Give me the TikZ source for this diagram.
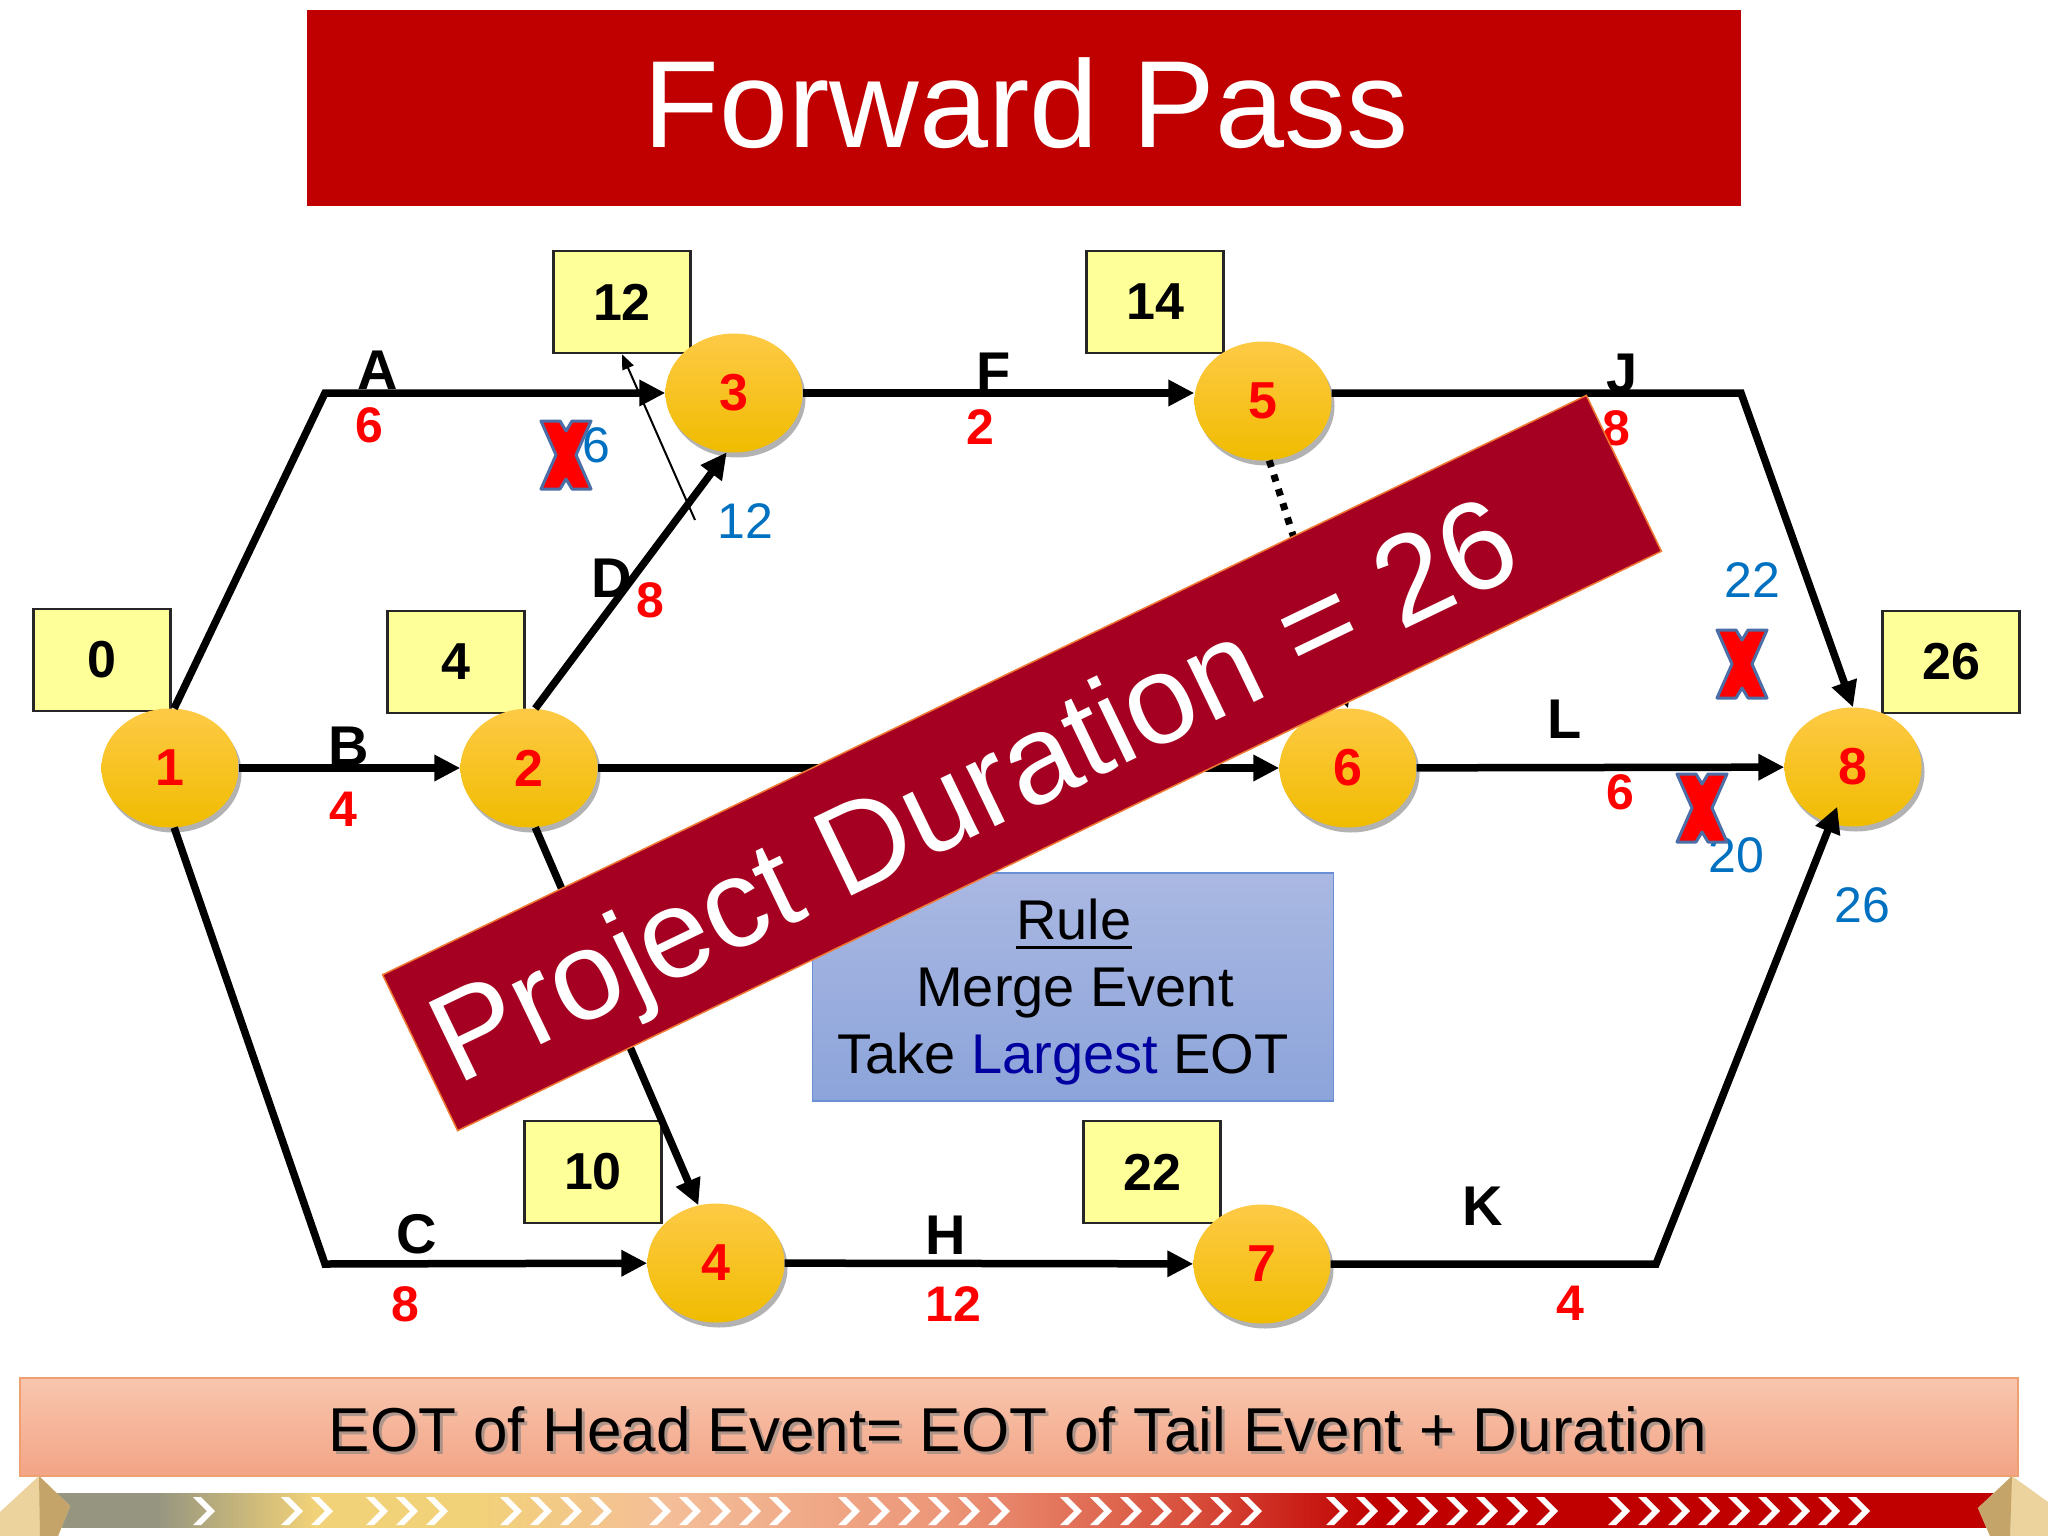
\documentclass[tikz,border=0pt]{standalone}
\usepackage{fontspec}
\setmainfont{Liberation Sans}
\usetikzlibrary{arrows.meta,shapes.geometric,shadows,calc}
\newcommand{\fsz}[1]{\fontsize{#1pt}{#1pt}\selectfont}
\definecolor{titlered}{RGB}{192,0,0}
\definecolor{bannerred}{RGB}{165,0,33}
\definecolor{bannerline}{RGB}{240,120,50}
\definecolor{boxyellow}{RGB}{255,255,153}
\definecolor{evtop}{RGB}{254,202,70}
\definecolor{evbot}{RGB}{240,188,0}
\definecolor{numblue}{RGB}{0,112,192}
\definecolor{xslate}{RGB}{74,110,165}
\definecolor{ruletop}{RGB}{170,184,226}
\definecolor{rulebot}{RGB}{140,164,218}
\definecolor{ruleline}{RGB}{106,143,212}
\definecolor{largeblue}{RGB}{0,0,160}
\definecolor{bartop}{RGB}{248,198,174}
\definecolor{barbot}{RGB}{243,164,134}
\definecolor{barline}{RGB}{238,160,112}
\definecolor{sgray}{RGB}{150,150,128}
\definecolor{syellow}{RGB}{242,210,120}
\definecolor{speach}{RGB}{244,190,152}
\definecolor{ssalmon}{RGB}{236,150,120}
\definecolor{scoral}{RGB}{217,83,63}
\definecolor{sdred}{RGB}{192,0,0}
\definecolor{tanlight}{RGB}{236,210,156}
\definecolor{tandark}{RGB}{196,164,104}
\pgfdeclarehorizontalshading{stripshade}{100bp}{color(0bp)=(sgray); color(28bp)=(sgray); color(32bp)=(syellow); color(36bp)=(syellow); color(41bp)=(speach); color(48bp)=(ssalmon); color(54bp)=(scoral); color(59bp)=(sdred); color(100bp)=(sdred)}
\newcommand{\redcross}[1]{%
  \begin{scope}[shift={#1}]
    \filldraw[fill=red, draw=xslate, line width=3pt, line join=round]
      (-25,-34) -- (-6,-34) -- (0,-24) -- (6,-34) -- (25,-34) -- (10,0) -- (25,34) -- (6,34) -- (0,24) -- (-6,34) -- (-25,34) -- (-10,0) -- cycle;
  \end{scope}}
\tikzset{
  evt/.style={ellipse, minimum width=137pt, minimum height=119pt, inner sep=0pt,
    top color=evtop, bottom color=evbot, draw=none, text=red, font=\fsz{52}\bfseries,
    drop shadow={shadow xshift=3pt, shadow yshift=-5pt, opacity=0.3, fill=black}},
  eot/.style={rectangle, minimum width=137pt, minimum height=102pt, inner sep=0pt,
    fill=boxyellow, draw=black!85, line width=2.5pt, font=\fsz{52}\bfseries},
  act/.style={inner sep=0pt, anchor=base, font=\fsz{56}\bfseries},
  dur/.style={inner sep=0pt, anchor=base, text=red, font=\fsz{50}\bfseries},
  blu/.style={inner sep=0pt, anchor=base, text=numblue, font=\fsz{50}},
  arr/.style={line width=7.5pt, -{Triangle[length=26pt,width=25pt]}},
}
\begin{document}
\begin{tikzpicture}[x=1pt,y=-1pt]
\useasboundingbox (0,0) rectangle (2048,1536);
\fill[white] (0,0) rectangle (2048,1536);

% title
\node[fill=titlered, minimum width=1434pt, minimum height=195pt, inner sep=0pt] (title) at (1024,108) {};
\node[anchor=base, inner sep=0pt, text=white, font=\fsz{124}] (titletext) at (1026,147) {Forward Pass};

% EOT boxes
\node[eot] (e0)  at (102,660)  {0};
\node[eot] (e4)  at (456,662)  {4};
\node[eot] (e12) at (622,302)  {12};
\node[eot] (e14) at (1155,302) {14};
\node[eot] (e26) at (1951,662) {26};
\node[eot] (e10) at (593,1172) {10};
\node[eot] (e22) at (1152,1172) {22};

% events
\node[evt] (n1) at (170,768)  {1};
\node[evt] (n2) at (529,768)  {2};
\node[evt] (n3) at (734,393)  {3};
\node[evt] (n4) at (716,1263) {4};
\node[evt] (n5) at (1263,401) {5};
\node[evt] (n6) at (1348,768) {6};
\node[evt] (n7) at (1262,1264) {7};
\node[evt] (n8) at (1853,767) {8};

% corners
\coordinate (cA) at (325,393);
\coordinate (cC) at (325,1264);
\coordinate (cJ) at (1741,393);
\coordinate (cK) at (1656,1264);
\coordinate (tstart) at (695,520);

% activities
\draw[arr] (n1.86) -- (cA) -- (n3);
\draw[arr] (n1) -- (n2);
\draw[arr] (n1.-86) -- (cC) -- (n4);
\draw[arr] (n2.84) -- (n3.-97);
\draw[arr] (n2) -- (n6);
\draw[arr] (n2.-84) -- (n4.107);
\draw[arr] (n3) -- (n5.west |- n3);
\draw[arr] (n4) -- (n7);
\draw[arr] (n5.east |- n3) -- (cJ) -- (n8.north);
\draw[arr, shorten >=-18pt] (n7) -- (cK) -- (n8);
\draw[arr] (n6) -- (n8);
\draw[line width=7pt, dash pattern=on 7pt off 8pt, -{Triangle[length=22pt,width=20pt]}] (n5.-84) -- (n6.north);
\draw[line width=2pt, -{Triangle[length=15pt,width=12pt]}] (tstart) -- (e12.south);

% labels
\node[act] (lA) at (378,389) {A};
\node[dur] (dA) at (369,442) {6};
\node[blu] (tA) at (596,462) {6};
\node[blu] (t3) at (745,538) {12};
\node[act] (lD) at (612,597) {D};
\node[dur] (dD) at (650,617) {8};
\node[act] (lB) at (349,765) {B};
\node[dur] (dB) at (343,826) {4};
\node[act] (lF) at (994,391) {F};
\node[dur] (dF) at (980,444) {2};
\node[act] (lJ) at (1622,392) {J};
\node[dur] (dJ) at (1616,445) {8};
\node[act] (lL) at (1565,738) {L};
\node[dur] (dL) at (1620,809) {6};
\node[blu] (t22) at (1752,597) {22};
\node[blu] (t20) at (1736,872) {20};
\node[blu] (t26) at (1862,922) {26};
\node[act] (lC) at (417,1253) {C};
\node[dur] (dC) at (405,1321) {8};
\node[act] (lH) at (946,1254) {H};
\node[dur] (dH) at (953,1321) {12};
\node[act] (lK) at (1483,1225) {K};
\node[dur] (dK) at (1570,1320) {4};

% crosses
\redcross{(566,455)}
\redcross{(1742,664)}
\redcross{(1702,808)}

% rule box
\node[rectangle, minimum width=521pt, minimum height=228pt, inner sep=0pt,
  top color=ruletop, bottom color=rulebot, draw=ruleline, line width=1.5pt] (rule) at (1073,987) {};
\node[anchor=base, inner sep=0pt, font=\fsz{56}] (rule1) at (1074,939) {Rule};
\draw[line width=3pt] ([yshift=-8pt]rule1.base west) -- ([yshift=-8pt]rule1.base east);
\node[anchor=base, inner sep=0pt, font=\fsz{56}] (rule2) at (1075,1006) {Merge Event};
\node[anchor=base, inner sep=0pt, font=\fsz{56}] (rule3) at (1063,1073) {Take {\color{largeblue}Largest} EOT};

% banner
\node[rotate=25.7, minimum width=1336pt, minimum height=173pt, inner sep=0pt,
  fill=bannerred, draw=bannerline, line width=1.5pt, text=white, font=\fsz{126},
  text depth=0pt] (banner) at (1022,763) {Project Duration = 26\kern110pt\null};

% bottom bar
\node[rectangle, minimum width=1998pt, minimum height=98pt, inner sep=0pt,
  top color=bartop, bottom color=barbot, draw=barline, line width=2pt] (bar) at (1019,1427) {};
\node[anchor=base, inner sep=0pt, font=\fsz{62}, text=black!50, opacity=0.6] (barshadow) at (1021,1454) {EOT of Head Event= EOT of Tail Event + Duration};
\node[anchor=base, inner sep=0pt, font=\fsz{62}] (bartext) at (1018,1451) {EOT of Head Event= EOT of Tail Event + Duration};

% progress strip
\shade[shading=stripshade] (40,1493) rectangle (2004,1527);
\foreach \sx/\n in {193/1, 281/2, 366/3, 500/4, 649/5, 838/6, 1060/7, 1326/8, 1608/9} {
  \foreach \k in {1,...,\n} {
    \fill[white] ({\sx+(\k-1)*30},1497) -- ++(8,0) -- ++(14,14) -- ++(-14,14) -- ++(-8,0) -- ++(14,-14) -- cycle;
  }
}
% end pieces
\fill[tanlight] (39,1476) -- (70,1506) -- (58,1536) -- (0,1536) -- (0,1512) -- cycle;
\fill[tandark] (39,1476) -- (70,1506) -- (58,1536) -- (40,1536) -- cycle;
\fill[tanlight] (2012,1476) -- (2048,1502) -- (2048,1536) -- (1990,1536) -- (1978,1508) -- cycle;
\fill[tandark] (2012,1476) -- (1978,1508) -- (1990,1536) -- (2010,1536) -- cycle;
\end{tikzpicture}
\end{document}
